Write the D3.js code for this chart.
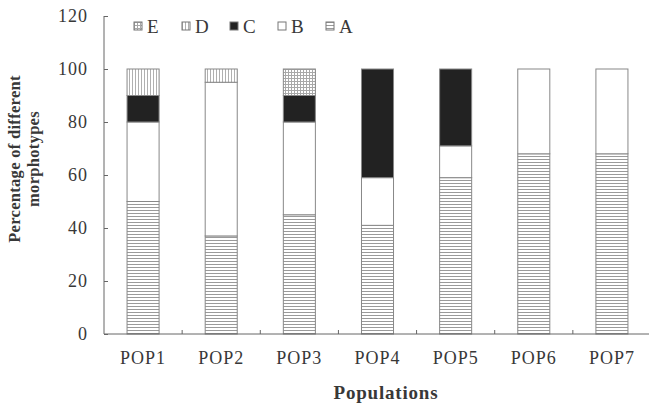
<!DOCTYPE html>
<html>
<head>
<meta charset="utf-8">
<script src="https://cdn.jsdelivr.net/npm/d3@7"></script>
<style>
  body { margin: 0; background: #fff; }
  text { font-family: "Liberation Serif", "DejaVu Serif", serif; fill: #383838; }
</style>
</head>
<body>
<div id="vis"></div>
<script>
// categories and morphotype shares (percent)
var populations = ['POP1', 'POP2', 'POP3', 'POP4', 'POP5', 'POP6', 'POP7'];
var seriesA = [50, 37, 45, 41, 59, 68, 68];
var seriesB = [30, 58, 35, 18, 12, 32, 32];
var seriesC = [10, 0, 10, 41, 29, 0, 0];
var seriesD = [10, 5, 0, 0, 0, 0, 0];
var seriesE = [0, 0, 10, 0, 0, 0, 0];
var keys = ['A', 'B', 'C', 'D', 'E'];
var legendOrder = ['E', 'D', 'C', 'B', 'A'];
var yTicks = [0, 20, 40, 60, 80, 100, 120];

var width = 649, height = 406;
var margin = { left: 104, right: 0, top: 16, bottom: 72 };

var rows = populations.map(function (p, i) {
  return { pop: p, A: seriesA[i], B: seriesB[i], C: seriesC[i], D: seriesD[i], E: seriesE[i] };
});

var svg = d3.select('#vis').append('svg')
  .attr('width', width)
  .attr('height', height);

// fill patterns for the monochrome series
var defs = svg.append('defs');

var pA = defs.append('pattern').attr('id', 'patA')
  .attr('patternUnits', 'userSpaceOnUse').attr('width', 6).attr('height', 3);
pA.append('rect').attr('width', 6).attr('height', 3).attr('fill', '#fff');
pA.append('line').attr('x1', 0).attr('x2', 6).attr('y1', 0.5).attr('y2', 0.5)
  .attr('stroke', '#9a9a9a').attr('stroke-width', 1);

var pD = defs.append('pattern').attr('id', 'patD')
  .attr('patternUnits', 'userSpaceOnUse').attr('width', 3).attr('height', 6);
pD.append('rect').attr('width', 3).attr('height', 6).attr('fill', '#fff');
pD.append('line').attr('x1', 0.5).attr('x2', 0.5).attr('y1', 0).attr('y2', 6)
  .attr('stroke', '#b0b0b0').attr('stroke-width', 1);

var pE = defs.append('pattern').attr('id', 'patE')
  .attr('patternUnits', 'userSpaceOnUse').attr('width', 3).attr('height', 3);
pE.append('rect').attr('width', 3).attr('height', 3).attr('fill', '#fff');
pE.append('line').attr('x1', 0.5).attr('x2', 0.5).attr('y1', 0).attr('y2', 3)
  .attr('stroke', '#a8a8a8').attr('stroke-width', 1);
pE.append('line').attr('x1', 0).attr('x2', 3).attr('y1', 0.5).attr('y2', 0.5)
  .attr('stroke', '#a8a8a8').attr('stroke-width', 1);

var fills = { A: 'url(#patA)', B: '#fff', C: '#222', D: 'url(#patD)', E: 'url(#patE)' };

var x = d3.scaleBand()
  .domain(populations)
  .range([margin.left, width + 2])
  .paddingInner(0.59)
  .paddingOuter(0.295);

var y = d3.scaleLinear()
  .domain([0, 120])
  .range([height - margin.bottom, margin.top]);

var stacked = d3.stack().keys(keys)(rows);

// bars
svg.append('g').selectAll('g')
  .data(stacked)
  .join('g')
  .attr('fill', function (d) { return fills[d.key]; })
  .selectAll('rect')
  .data(function (d) { return d.filter(function (s) { return s[1] - s[0] > 0; }); })
  .join('rect')
  .attr('x', function (d) { return x(d.data.pop); })
  .attr('y', function (d) { return y(d[1]); })
  .attr('width', x.bandwidth())
  .attr('height', function (d) { return y(d[0]) - y(d[1]); })
  .attr('stroke', '#888')
  .attr('stroke-width', 1);

// y axis, ticks pointing into the plot
var yAxis = svg.append('g')
  .attr('transform', 'translate(' + margin.left + ',0)')
  .call(d3.axisRight(y).tickValues(yTicks).tickSize(4).tickFormat(''));
yAxis.select('.domain').attr('stroke', '#666').attr('d', 'M0,' + y(120) + 'V' + y(0));
yAxis.selectAll('.tick line').attr('stroke', '#666');

svg.append('g').selectAll('text')
  .data(yTicks)
  .join('text')
  .attr('x', 88)
  .attr('y', function (d) { return y(d); })
  .attr('dy', '0.35em')
  .attr('text-anchor', 'end')
  .attr('font-size', 18)
  .attr('letter-spacing', 1)
  .text(function (d) { return d; });

// x axis with small ticks between categories
var xAxisY = y(0);
svg.append('line')
  .attr('x1', margin.left).attr('x2', width)
  .attr('y1', xAxisY).attr('y2', xAxisY)
  .attr('stroke', '#666');

svg.append('g').selectAll('line')
  .data(populations.slice(1))
  .join('line')
  .attr('x1', function (d) { return x(d) - x.step() * x.paddingInner() / 2; })
  .attr('x2', function (d) { return x(d) - x.step() * x.paddingInner() / 2; })
  .attr('y1', xAxisY).attr('y2', xAxisY - 4)
  .attr('stroke', '#666');

svg.append('g').selectAll('text')
  .data(populations)
  .join('text')
  .attr('x', function (d) { return x(d) + x.bandwidth() / 2; })
  .attr('y', 364)
  .attr('text-anchor', 'middle')
  .attr('font-size', 18)
  .attr('letter-spacing', 1)
  .text(function (d) { return d; });

// axis titles
svg.append('text')
  .attr('x', 386).attr('y', 399)
  .attr('text-anchor', 'middle')
  .attr('font-size', 19)
  .attr('font-weight', 'bold')
  .attr('letter-spacing', 0.8)
  .text('Populations');

var yTitle = svg.append('text')
  .attr('transform', 'translate(20,159) rotate(-90)')
  .attr('text-anchor', 'middle')
  .attr('font-size', 16.5)
  .attr('font-weight', 'bold')
  .attr('letter-spacing', 0.3);
yTitle.append('tspan').attr('x', 0).attr('y', 0).text('Percentage of different');
yTitle.append('tspan').attr('x', 0).attr('y', 19).text('morphotypes');

// legend
var legend = svg.append('g').selectAll('g')
  .data(legendOrder)
  .join('g')
  .attr('transform', function (d, i) { return 'translate(' + (134 + i * 48) + ',22)'; });

legend.append('rect')
  .attr('width', 8).attr('height', 8)
  .attr('fill', function (d) { return fills[d]; })
  .attr('stroke', '#777');

legend.append('text')
  .attr('x', 13).attr('y', 4)
  .attr('dy', '0.38em')
  .attr('font-size', 19)
  .text(function (d) { return d; });
</script>
</body>
</html>
